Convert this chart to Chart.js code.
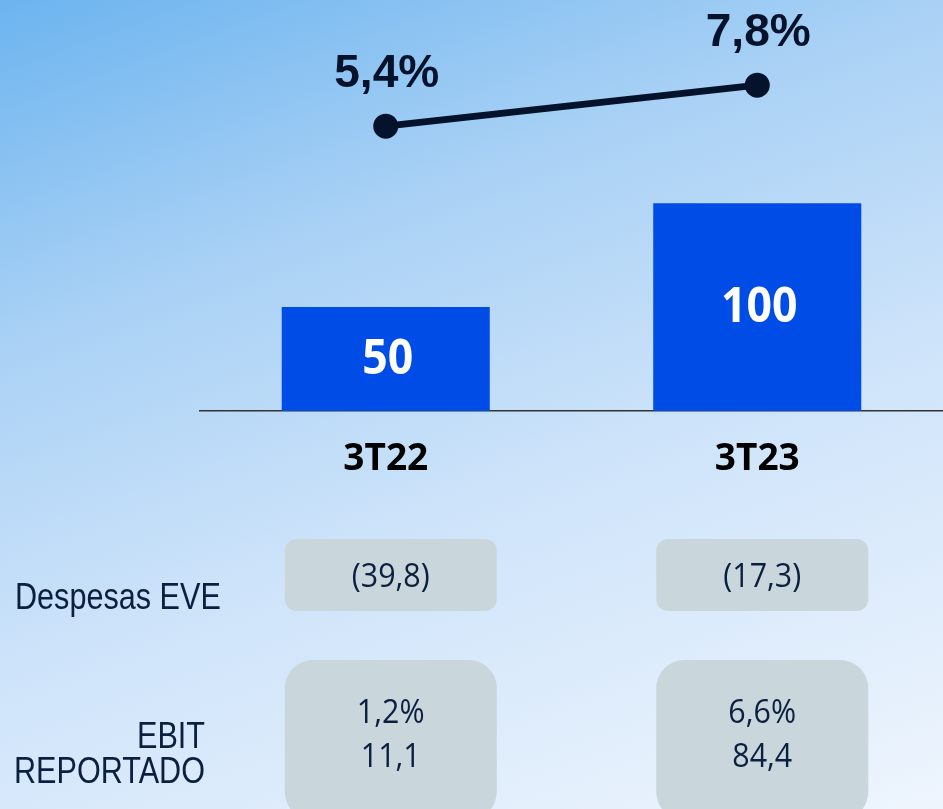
<!DOCTYPE html>
<html>
<head>
  <title>EBIT</title>
  <script src="https://cdn.jsdelivr.net/npm/chart.js@4.4.0/dist/chart.umd.min.js"></script>
  <style>
    html, body { margin: 0; padding: 0; }
    body {
      width: 943px; height: 809px; overflow: hidden;
      background: linear-gradient(160deg, #6cb4ef 0%, #a9d1f5 30%, #cfe4fa 60%, #eef5fd 100%);
    }
  </style>
</head>
<body>
  <canvas id="ebitChart" width="943" height="809"></canvas>

  <script>
    // values
    var periods = ['3T22', '3T23'];
    var ebitAjustado = [50, 100];
    var margem = [5.4, 7.8];
    var margemLabels = ['5,4%', '7,8%'];
    var despesasEve = ['(39,8)', '(17,3)'];
    var ebitRepMargem = ['1,2%', '6,6%'];
    var ebitRepValor = ['11,1', '84,4'];

    var navy = '#0b1f3f';

    // text squeezed sideways (the original is a bit narrow)
    function narrowText(ctx, txt, x, y, sx) {
      ctx.save();
      ctx.translate(x, y);
      ctx.scale(sx, 1);
      ctx.fillText(txt, 0, 0);
      ctx.restore();
    }

    // labels on bars, line points and the table rows below
    var extras = {
      id: 'extras',
      afterDatasetsDraw: function(chart) {
        var ctx = chart.ctx;
        ctx.save();
        ctx.textAlign = 'center';
        ctx.textBaseline = 'middle';

        // bar values, white in the middle of the bar
        ctx.fillStyle = '#ffffff';
        ctx.font = 'bold 48px "Open Sans"';
        chart.getDatasetMeta(1).data.forEach(function(bar, i) {
          narrowText(ctx, ebitAjustado[i], bar.x + 2, (bar.y + bar.base) / 2 + 1, 0.93);
        });

        // margin labels above the points
        ctx.fillStyle = '#05122b';
        ctx.font = 'bold 47px "Liberation Sans"';
        chart.getDatasetMeta(0).data.forEach(function(pt, i) {
          narrowText(ctx, margemLabels[i], pt.x + 1, pt.y - 52, 0.98);
        });

        // boxes underneath
        var x = chart.scales.x;
        ctx.font = '32px "Open Sans"';
        periods.forEach(function(p, i) {
          var cx = x.getPixelForValue(i) + 5;
          ctx.fillStyle = '#c9d6dc';
          ctx.beginPath();
          ctx.roundRect(cx - 106, 539, 212, 72, 12);
          ctx.fill();
          ctx.beginPath();
          ctx.roundRect(cx - 106, 660, 212, 160, 28);
          ctx.fill();

          ctx.fillStyle = navy;
          narrowText(ctx, despesasEve[i], cx, 578, 0.95);
          narrowText(ctx, ebitRepMargem[i], cx, 714, 0.95);
          narrowText(ctx, ebitRepValor[i], cx, 758, 0.95);
        });

        // row titles
        ctx.font = '36px "Liberation Sans"';
        ctx.textBaseline = 'alphabetic';
        ctx.textAlign = 'left';
        narrowText(ctx, 'Despesas EVE', 15, 609, 0.85);
        ctx.textAlign = 'right';
        narrowText(ctx, 'EBIT', 205, 748, 0.85);
        narrowText(ctx, 'REPORTADO', 205, 783, 0.85);

        ctx.restore();
      }
    };

    var ctx = document.getElementById('ebitChart').getContext('2d');

    var chart = new Chart(ctx, {
      data: {
        labels: periods,
        datasets: [{
          type: 'line',
          label: 'Margem',
          data: margem,
          yAxisID: 'y1',
          borderColor: '#05122b',
          backgroundColor: '#05122b',
          borderWidth: 7,
          pointRadius: 9,
          pointHoverRadius: 9,
          tension: 0,
          order: 0
        }, {
          type: 'bar',
          label: 'EBIT',
          data: ebitAjustado,
          yAxisID: 'y',
          backgroundColor: '#004ce6',
          barPercentage: 0.56,
          categoryPercentage: 1,
          order: 1
        }]
      },
      options: {
        responsive: false,
        animation: false,
        layout: { autoPadding: false, padding: { left: 200, top: 10, right: 0, bottom: 0 } },
        plugins: {
          legend: { display: false },
          tooltip: { enabled: false }
        },
        scales: {
          x: {
            grid: { display: false },
            border: { display: true, color: '#333333', width: 1.5 },
            ticks: {
              color: '#000000',
              font: { family: 'Open Sans', size: 37, weight: 'bold' },
              padding: 18
            },
            afterFit: function(scale) { scale.height = 398; }
          },
          y: { display: false, min: 0, max: 193 },
          y1: { display: false, min: -11.28, max: 12.2 }
        }
      },
      plugins: [extras]
    });
  </script>
</body>
</html>
